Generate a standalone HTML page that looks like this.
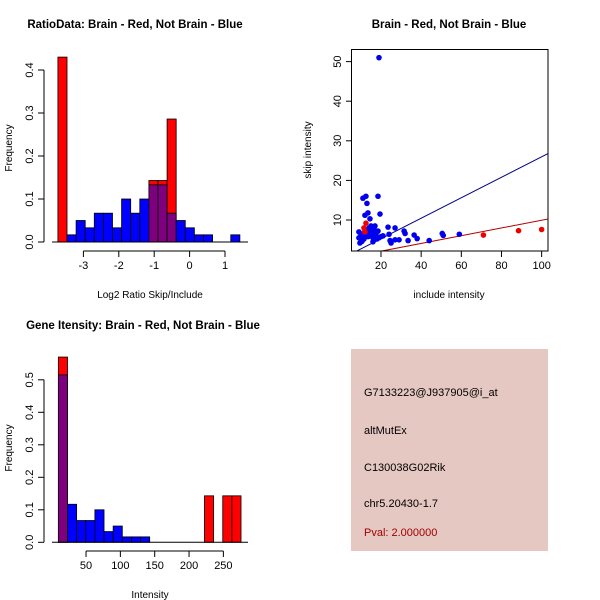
<!DOCTYPE html>
<html><head><meta charset="utf-8"><style>
body{margin:0;background:#fff}
svg{display:block;font-family:"Liberation Sans",sans-serif}
</style></head><body>
<svg id="c" width="600" height="600"></svg>
<script>
// Panel 1: ratio histogram
const ratioStart = -3.72, ratioBinW = 0.257;
const ratioRed  = [0.43,0,0,0,0,0,0,0,0,0,0.143,0.143,0.286,0,0,0,0,0,0,0];
const ratioBlue = [0,0.0167,0.05,0.033,0.067,0.067,0.033,0.1,0.067,0.1,0.133,0.133,0.067,0.05,0.033,0.0167,0.0167,0,0,0.0167];
const ratioXTicks = [-3,-2,-1,0,1];
const ratioYTicks = [0,0.1,0.2,0.3,0.4];
// Panel 2: scatter
const blueX = [19,11,12.5,13,18.5,19.5,12,13.5,14.5,9,9,9.5,10,10.5,11,11.5,12,12.5,13,13.5,14,14.5,15,15.5,16,16,16.5,17,17.5,18,18.5,19,20,21,23.5,24,24.5,25,27,27,29,31.5,32,33.5,36.5,38,44,50.5,51,59,15,14,13,16,17,12,15];
const blueY = [51,15.5,16,14.2,16,11.5,11.2,11.8,10.3,7,5.5,4.2,6,4.6,6.5,5.2,7.5,6,7,5.8,8,6.5,8.5,7,5.5,4.5,7.8,8.5,6.5,5.2,7.2,5.5,5.8,6,8.2,6.4,4.8,4.2,8,5,5,7.2,6.6,4.8,6.2,5.3,4.8,6.6,6.1,6.4,7.5,7,6.5,6.8,6.2,5.8,6];
const redX = [71,88.5,100,12.5,11.5,12];
const redY = [6.2,7.3,7.6,9.2,8,7];
const blueFit = [0.12,0.2585];
const redFit = [0.17,0.0977];
const scatXTicks = [20,40,60,80,100];
const scatYTicks = [10,20,30,40,50];
// Panel 3: intensity histogram
const intStart = 9.7, intBinW = 13.3;
const intRed  = [0.57,0,0,0,0,0,0,0,0,0,0,0,0,0,0,0,0.143,0,0.143,0.143];
const intBlue = [0.515,0.117,0.067,0.067,0.1,0.033,0.05,0.0167,0.0167,0.0167,0,0,0,0,0,0,0,0,0,0];
const intXTicks = [50,100,150,200,250];
const intYTicks = [0,0.1,0.2,0.3,0.4,0.5];
// Panel 4
const infoLines = ["G7133223@J937905@i_at","altMutEx","C130038G02Rik","chr5.20430-1.7"];

const NS="http://www.w3.org/2000/svg", svg=document.getElementById('c');
function mk(tag,attrs,parent){const e=document.createElementNS(NS,tag);for(const k in attrs)e.setAttribute(k,attrs[k]);(parent||svg).appendChild(e);return e;}
function txt(s,x,y,opt,name){const e=mk('text',Object.assign({x:x,y:y,'font-size':11,'text-anchor':'middle',fill:'#000'},opt||{}));e.textContent=s;


return e;}
function line(x1,y1,x2,y2,name,stroke){const e=mk('line',{x1,y1,x2,y2,stroke:stroke||'#000','stroke-width':1});


return e;}

function hist(start,bw,red,blue,sx,sy,y0,pref){
  for(let i=0;i<red.length;i++){
    const a=start+i*bw,b=a+bw,x1=sx(a),x2=sx(b);
    const r=red[i],bl=blue[i];
    if(r>0){const e=mk('rect',{x:x1,y:sy(r),width:x2-x1,height:y0-sy(r),fill:'#ff0000',stroke:'#000','stroke-width':0.8});
      
      }
    if(bl>0){const e=mk('rect',{x:x1,y:sy(bl),width:x2-x1,height:y0-sy(bl),fill:(r>0?'#7f007f':'#0000ff'),stroke:'#000','stroke-width':0.8});
      
      }
  }
}
function yaxis(x,ticks,sy,fmt,name){
  line(x,sy(ticks[0]),x,sy(ticks[ticks.length-1]),name+'-line');
  ticks.forEach(t=>{line(x-6,sy(t),x,sy(t),name+'-tick');
    txt(fmt(t),x-11,sy(t),{transform:`rotate(-90 ${x-11} ${sy(t)})`},name+'-label');});
}
function xaxis(y,ticks,sx,name){
  line(sx(ticks[0]),y,sx(ticks[ticks.length-1]),y,name+'-line');
  ticks.forEach(t=>{line(sx(t),y,sx(t),y+6,name+'-tick');txt(String(t),sx(t),y+18,{},name+'-label');});
}

// Panel 1
{const sx=v=>189.6+v*35.4, sy=v=>242-v*430, y0=242;
 hist(ratioStart,ratioBinW,ratioRed,ratioBlue,sx,sy,y0,'ratio');
 line(52,242,248,242,'ratio-baseline');
 yaxis(44,ratioYTicks,sy,t=>t.toFixed(1),'ratio-y-axis');
 xaxis(251,ratioXTicks,sx,'ratio-x-axis');
 txt('RatioData: Brain - Red, Not Brain - Blue',135,28,{'font-weight':'bold','font-size':11.5},'ratio-title');
 txt('Log2 Ratio Skip/Include',150,298,{'font-size':10},'ratio-x-title');
 txt('Frequency',12,148,{'font-size':10,transform:'rotate(-90 12 148)'},'ratio-y-title');}

// Panel 2
{const sx=v=>381+(v-20)*2.008, sy=v=>259.6-v*3.96;
 const clip=mk('clipPath',{id:'cp'});mk('rect',{x:352,y:49,width:196,height:202},clip);
 const g=mk('g',{'clip-path':'url(#cp)'});
 
 const fx1=0,fx2=110;
 const bl=mk('line',{x1:sx(fx1),y1:sy(blueFit[0]+blueFit[1]*fx1),x2:sx(fx2),y2:sy(blueFit[0]+blueFit[1]*fx2),stroke:'#00008b','stroke-width':1},g);
 
 const rl=mk('line',{x1:sx(fx1),y1:sy(redFit[0]+redFit[1]*fx1),x2:sx(fx2),y2:sy(redFit[0]+redFit[1]*fx2),stroke:'#b00000','stroke-width':1},g);
 
 blueX.forEach((x,i)=>{const c=mk('circle',{cx:sx(x),cy:sy(blueY[i]),r:2.8,fill:'#0000ee'},g);
   });
 redX.forEach((x,i)=>{const c=mk('circle',{cx:sx(x),cy:sy(redY[i]),r:2.8,fill:'#ee0000'},g);
   });
 const box=mk('rect',{x:351.5,y:49.5,width:196.5,height:201.5,fill:'none',stroke:'#000'});
 
 scatXTicks.forEach(t=>{line(sx(t),251,sx(t),257,'scatter-x-tick');txt(String(t),sx(t),269,{},'scatter-x-label');});
 scatYTicks.forEach(t=>{line(346,sy(t),352,sy(t),'scatter-y-tick');txt(String(t),341,sy(t),{transform:`rotate(-90 341 ${sy(t)})`},'scatter-y-label');});
 txt('Brain - Red, Not Brain - Blue',449,28,{'font-weight':'bold','font-size':11.5},'scatter-title');
 txt('include intensity',449,298,{'font-size':10},'scatter-x-title');
 txt('skip intensity',311,150,{'font-size':10,transform:'rotate(-90 311 150)'},'scatter-y-title');}

// Panel 3
{const sx=v=>51.7+v*0.6867, sy=v=>542.3-v*325, y0=542.3;
 hist(intStart,intBinW,intRed,intBlue,sx,sy,y0,'intensity');
 line(52,542.3,248,542.3,'intensity-baseline');
 yaxis(44,intYTicks,sy,t=>t.toFixed(1),'intensity-y-axis');
 xaxis(551,intXTicks,sx,'intensity-x-axis');
 txt('Gene Itensity: Brain - Red, Not Brain - Blue',143,329,{'font-weight':'bold','font-size':11.5},'intensity-title');
 txt('Intensity',150,598,{'font-size':10},'intensity-x-title');
 txt('Frequency',12,448,{'font-size':10,transform:'rotate(-90 12 448)'},'intensity-y-title');}

// Panel 4
{const r=mk('rect',{x:351,y:349,width:197,height:202,fill:'#e6c8c2'});
 
 const ys=[396,434,471,507];
 infoLines.forEach((s,i)=>txt(s,364,ys[i],{'text-anchor':'start','font-size':11},'info-line-'+i));
 txt('Pval: 2.000000',364,536,{'text-anchor':'start','font-size':11,fill:'#a00000'},'pval-text');}
</script>
</body></html>
